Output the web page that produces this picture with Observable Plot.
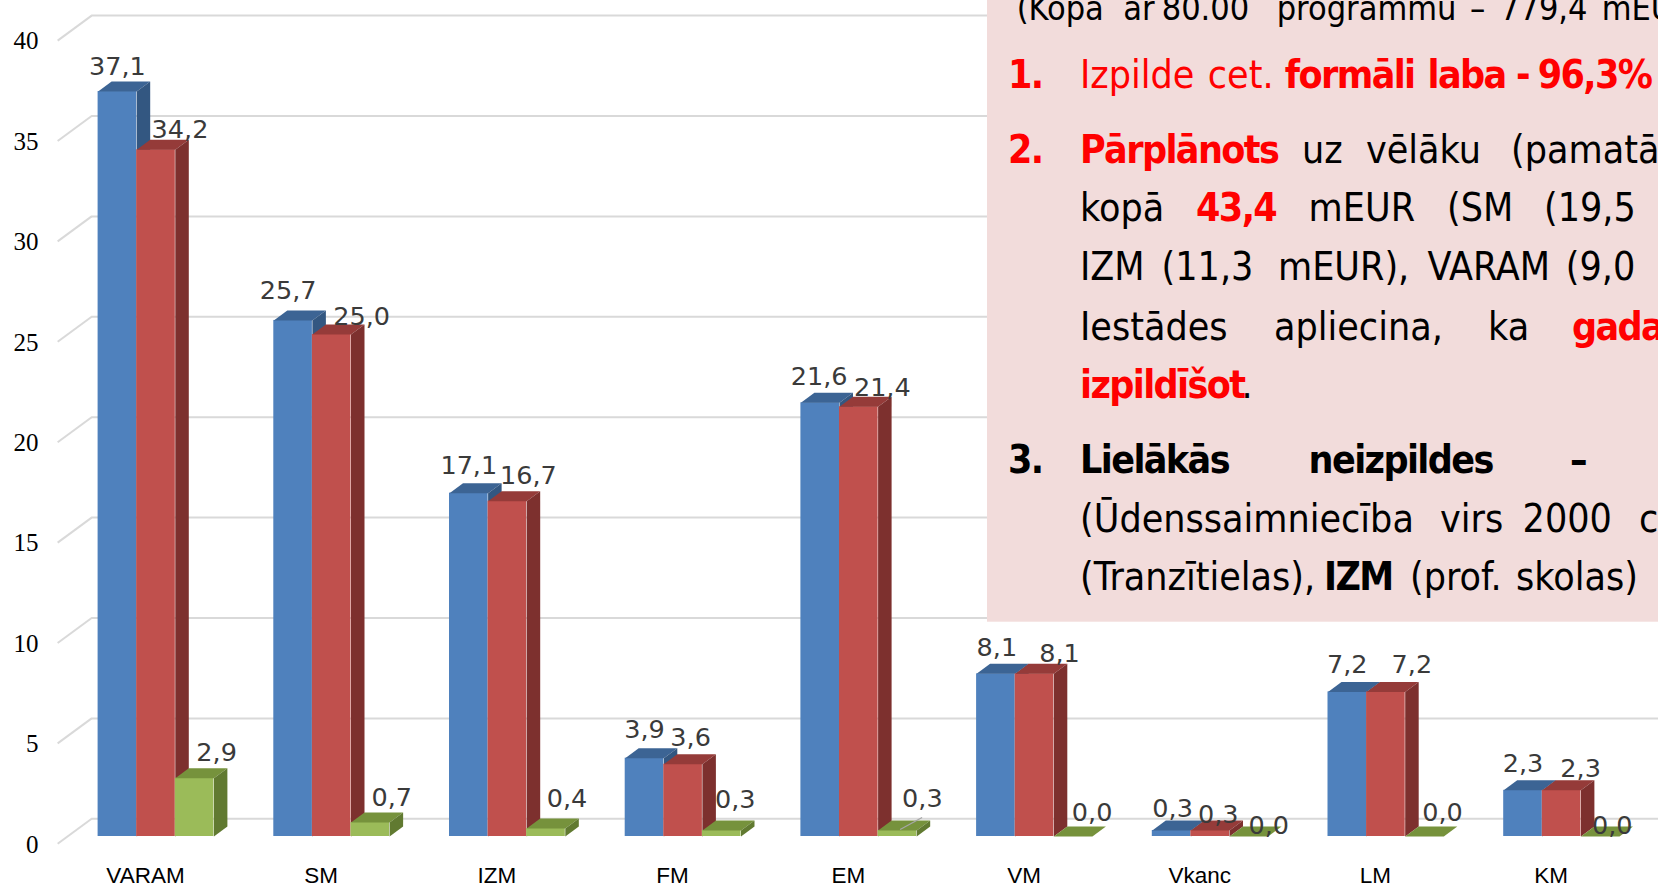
<!DOCTYPE html>
<html><head><meta charset="utf-8">
<script src="https://cdn.jsdelivr.net/npm/d3@7"></script>
<script src="https://cdn.jsdelivr.net/npm/@observablehq/plot@0.6"></script>
<style>
html,body{margin:0;padding:0;background:#fff;overflow:hidden;}
#wrap{position:relative;width:1658px;height:886px;overflow:hidden;background:#fff;}
#wrap svg{position:absolute;left:0;top:0;}
.note text{font-family:"DejaVu Sans Condensed","DejaVu Sans",sans-serif;font-stretch:condensed;}
</style></head><body><div id="wrap"></div>
<script>
// ---------- data ----------
const categories = ["VARAM","SM","IZM","FM","EM","VM","Vkanc","LM","KM"];
const plan     = [37.1, 25.7, 17.1, 3.9, 21.6, 8.1, 0.3, 7.2, 2.3];
const actual   = [34.2, 25.0, 16.7, 3.6, 21.4, 8.1, 0.3, 7.2, 2.3];
const unspent  = [2.9, 0.7, 0.4, 0.3, 0.3, 0.0, 0.0, 0.0, 0.0];
const yTicks   = [0, 5, 10, 15, 20, 25, 30, 35, 40];

// ---------- layout ----------
const W = 1658, H = 886;
const P = 175.7, C0 = 145, K = 20.08, BASE = 836;
const BAR_W = 38.6, BAR_OFF = -47.4, DEPTH_X = 13.5, DEPTH_Y = 10;
const xs = px => px / P, ys = px => px / K;
const xmin = (0 - C0) / P, xmax = (W - C0) / P;
const labelDx = [[0,-5,0,0,-1,1,1,0,0],[24,30,21,7.5,23.5,25,8,26,19],[22,21.5,21,13.5,25,19,20,18,12]];
const labelDy = [[-17,-21,-19,-20,-18,-18,-13,-19,-18],[-12,-10,-17,-18,-11,-12,-7,-19,-13],[-17,-16,-21,-22,-23,-16,-3,-16,-3]];
const faces = [
  {front:"#4F81BD", top:"#3C6494", side:"#335781"},
  {front:"#C0504D", top:"#953B39", side:"#7D302E"},
  {front:"#9BBB59", top:"#76923C", side:"#617A31"}
];

const seriesValues = [plan, actual, unspent];
const bars = [];
seriesValues.forEach((vals, s) => vals.forEach((v, i) => {
  const xl = i + xs(BAR_OFF + s * BAR_W);
  bars.push({s, i, v, xl, xr: xl + xs(BAR_W)});
}));
const dX = xs(DEPTH_X), dY = ys(DEPTH_Y);
const tops = bars.flatMap(b => [[b.xl,b.v],[b.xr,b.v],[b.xr+dX,b.v+dY],[b.xl+dX,b.v+dY]]
  .map(([x,y]) => ({id:`${b.s}-${b.i}`, s:b.s, x, y})));
const sides = bars.flatMap(b => [[b.xr,0],[b.xr+dX,dY],[b.xr+dX,b.v+dY],[b.xr,b.v]]
  .map(([x,y]) => ({id:`${b.s}-${b.i}`, s:b.s, x, y})));
const fmt = v => v.toFixed(1).replace(".", ",");
const labels = bars.map(b => ({
  x: (b.xl + b.xr) / 2 + xs(labelDx[b.s][b.i]),
  y: b.v - ys(labelDy[b.s][b.i]),
  text: fmt(b.v)
}));
const emGreen = bars.find(b => b.s === 2 && b.i === 4);
const leader = [{x1: emGreen.xl + xs(22), y1: emGreen.v + ys(1), x2: emGreen.xl + xs(44), y2: emGreen.v + ys(13)}];

const marks = [
  Plot.ruleY(yTicks, {y: d => d, x1: -0.5 + xs(34), x2: xmax, dy: -17.7, stroke: "#D9D9D9", strokeWidth: 2}),
  Plot.link(yTicks, {x1: -0.5, x2: -0.5 + xs(34), y1: d => d - ys(7.3), y2: d => d + ys(17.7), stroke: "#D9D9D9", strokeWidth: 2})
];
faces.forEach((f, s) => {
  marks.push(Plot.rect(bars.filter(b => b.s === s), {x1: "xl", x2: "xr", y1: 0, y2: "v", fill: f.front}));
  marks.push(Plot.line(tops.filter(d => d.s === s), {x: "x", y: "y", z: "id", fill: f.top, stroke: "none", curve: "linear-closed"}));
  marks.push(Plot.line(sides.filter(d => d.s === s), {x: "x", y: "y", z: "id", fill: f.side, stroke: "none", curve: "linear-closed"}));
});
marks.push(Plot.link(leader, {x1: "x1", y1: "y1", x2: "x2", y2: "y2", stroke: "#A6A6A6", strokeWidth: 1.2}));
marks.push(Plot.text(labels, {x: "x", y: "y", text: "text", fontSize: 25.5, fontFamily: "DejaVu Sans", fill: "#3A3A3A", lineAnchor: "bottom", textAnchor: "middle"}));
marks.push(Plot.axisY(yTicks, {anchor: "left", tickSize: 0, tickPadding: 3, dy: 8, fontSize: 25, fontFamily: "Liberation Serif", color: "#000", label: null}));
marks.push(Plot.axisX(d3.range(categories.length), {anchor: "bottom", tickSize: 0, tickPadding: 7, tickFormat: i => categories[i], fontSize: 22.5, fontFamily: "Liberation Sans, Arial, sans-serif", color: "#000", label: null}));

const chart = Plot.plot({
  width: W, height: H,
  marginLeft: 41, marginBottom: 26, marginTop: 0, marginRight: 0,
  x: {type: "linear", domain: [xmin, xmax], range: [0, W], label: null},
  y: {type: "linear", domain: [0, 40], range: [BASE, BASE - 40 * K], label: null},
  style: {background: "white", overflow: "visible"},
  marks
});
document.getElementById("wrap").appendChild(chart);

// ---------- note box ----------
const noteLines = [
  {y: 20, size: 34, words: [["(Kopā",1016.7,""],["ar",1123.3,""],["80.00",1161.7,""],["programmu",1276.7,""],["–",1470,""],["779,4",1500,""],["mEUR)",1601.7,""]]},
  {y: 88, words: [["1.",1008,"br"],["Izpilde",1080,"r"],["cet.",1207.8,"r"],["formāli",1284.8,"br"],["laba",1427.5,"br"],["-",1516,"br"],["96,3%",1537.7,"br"]]},
  {y: 163, words: [["2.",1008,"br"],["Pārplānots",1080,"br"],["uz",1302,""],["vēlāku",1366,""],["(pamatā",1511,""]]},
  {y: 221, words: [["kopā",1080,""],["43,4",1196,"br"],["mEUR",1308.6,""],["(SM",1447,""],["(19,5",1544,""]]},
  {y: 280, words: [["IZM",1080,""],["(11,3",1161.6,""],["mEUR),",1278,""],["VARAM",1427.5,""],["(9,0",1565.8,""]]},
  {y: 340, words: [["Iestādes",1080,""],["apliecina,",1274,""],["ka",1488,""],["gada",1572,"br"]]},
  {y: 398, words: [["izpildīšot",1080,"br"],[".",1241.6,""]]},
  {y: 472.7, words: [["3.",1008,"b"],["Lielākās",1080,"b"],["neizpildes",1308.6,"b"],["–",1570,"b"]]},
  {y: 531.7, words: [["(Ūdenssaimniecība",1080,""],["virs",1440,""],["2000",1522.6,""],["c",1639,""]]},
  {y: 590, words: [["(Tranzītielas),",1080,""],["IZM",1324,"b"],["(prof.",1410,""],["skolas)",1516,""]]}
];
const note = d3.create("svg").attr("class", "note").attr("width", W).attr("height", H);
note.append("rect").attr("x", 987).attr("y", 0).attr("width", W - 987).attr("height", 621.7).attr("fill", "#F2DCDB");
noteLines.forEach(line => {
  line.words.forEach(([t, x, f]) => {
    const bold = f.includes("b"), red = f.includes("r");
    note.append("text").attr("x", x).attr("y", line.y)
      .attr("font-size", line.size || 39)
      .attr("font-weight", bold ? "bold" : "normal")
      .attr("letter-spacing", bold ? "-1.6px" : "0px")
      .attr("fill", red ? "#FF0000" : "#000000")
      .text(t);
  });
});
document.getElementById("wrap").appendChild(note.node());
</script></body></html>
